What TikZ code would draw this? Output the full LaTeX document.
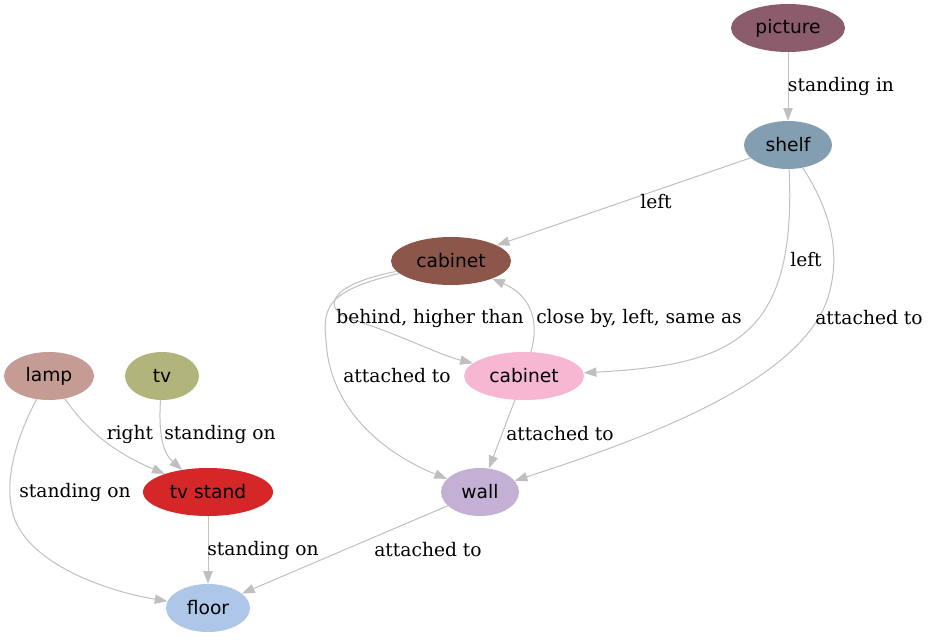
\documentclass[tikz,border=0pt]{standalone}
\usepackage{fontspec}
\newfontfamily\nodefont{DejaVu Sans}
\newfontfamily\edgefont{DejaVu Serif}
\usetikzlibrary{shapes.geometric,arrows.meta}
\definecolor{cpicture}{HTML}{8B5C6B}
\definecolor{cshelf}{HTML}{839EB1}
\definecolor{ccabA}{HTML}{8C564B}
\definecolor{ccabB}{HTML}{F7B6D2}
\definecolor{clamp}{HTML}{C49C94}
\definecolor{ctv}{HTML}{B1B57B}
\definecolor{ctvstand}{HTML}{D62728}
\definecolor{cwall}{HTML}{C5B0D5}
\definecolor{cfloor}{HTML}{AEC7E8}
\definecolor{cedge}{HTML}{BFBFBF}
\tikzset{
  obj/.style={ellipse, inner sep=0pt, minimum height=36pt, font=\nodefont\fontsize{14pt}{16pt}\selectfont, text=black},
  rel/.style={draw=cedge, line width=0.75pt, -{Triangle[length=9.5pt,width=7pt,fill=cedge]}},
  lbl/.style={font=\edgefont\fontsize{14pt}{16pt}\selectfont, inner sep=0pt}
}
\begin{document}
\begin{tikzpicture}[x=0.75pt,y=-0.75pt]
\useasboundingbox (0,0) rectangle (930,639);
% nodes
\node[obj, fill=cpicture, minimum width=85.5pt] (picture) at (788,28) {picture};
\node[obj, fill=cshelf, minimum width=66pt] (shelf) at (788,145) {shelf};
\node[obj, fill=ccabA, minimum width=90pt] (cabA) at (451,261) {cabinet};
\node[obj, fill=ccabB, minimum width=90pt] (cabB) at (524,376) {cabinet};
\node[obj, fill=clamp, minimum width=67.5pt] (lamp) at (49,376) {lamp};
\node[obj, fill=ctv, minimum width=55.5pt] (tv) at (162,376) {tv};
\node[obj, fill=ctvstand, minimum width=97.5pt] (tvstand) at (208,492) {tv stand};
\node[obj, fill=cwall, minimum width=58.5pt] (wall) at (480,492) {wall};
\node[obj, fill=cfloor, minimum width=63pt] (floor) at (208,608) {floor};
% edges
\draw[rel] (picture) -- (shelf);
\node[lbl] (l1) at (841,86) {standing in};
\draw[rel] (shelf) -- (cabA);
\node[lbl] (l2) at (656,202) {left};
\draw[rel] (shelf) .. controls (797,340) and (730,365) .. (cabB);
\node[lbl] (l3) at (806,260) {left};
\draw[rel] (shelf) .. controls (830,210) and (840,250) .. (830,290) .. controls (810,380) and (640,440) .. (wall);
\node[lbl] (l4) at (869,318) {attached to};
\draw[rel] (cabA) .. controls (325,285) and (318,312) .. (360,322) .. controls (400,335) and (440,355) .. (cabB);
\node[lbl] (l5) at (430,318) {behind, higher than};
\draw[rel] (cabB) .. controls (540,320) and (530,295) .. (cabA);
\node[lbl] (l6) at (639,318) {close by, left, same as};
\draw[rel] (cabA) .. controls (330,290) and (322,305) .. (326,340) .. controls (330,420) and (400,460) .. (wall);
\node[lbl] (l7) at (397,376) {attached to};
\draw[rel] (cabB) -- (wall);
\node[lbl] (l8) at (560,434) {attached to};
\draw[rel] (lamp) .. controls (90,435) and (120,455) .. (tvstand);
\node[lbl] (l9) at (130,434) {right};
\draw[rel] (tv) .. controls (158,440) and (165,455) .. (tvstand);
\node[lbl] (l10) at (220,434) {standing on};
\draw[rel] (lamp) .. controls (15,440) and (5,480) .. (12,510) .. controls (22,560) and (100,590) .. (floor);
\node[lbl] (l11) at (75,492) {standing on};
\draw[rel] (tvstand) -- (floor);
\node[lbl] (l12) at (263,550) {standing on};
\draw[rel] (wall) -- (floor);
\node[lbl] (l13) at (428,550) {attached to};
\end{tikzpicture}
\end{document}
